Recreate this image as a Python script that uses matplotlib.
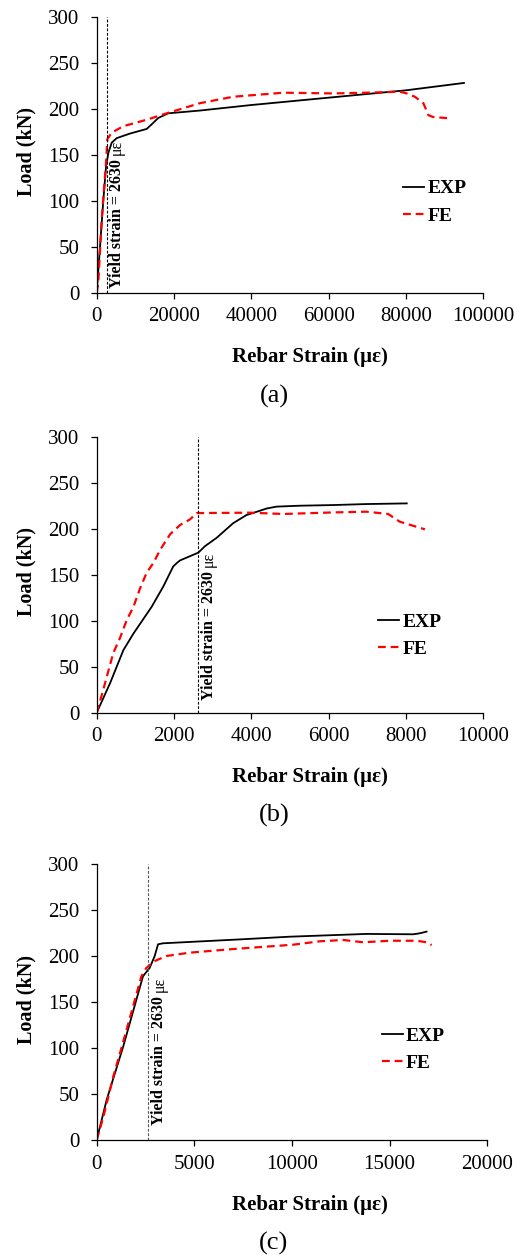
import numpy as np
import matplotlib
matplotlib.use("Agg")
import matplotlib.pyplot as plt

plt.rcParams['font.family'] = ['Liberation Serif', 'DejaVu Serif']

W, H = 523, 1258
YIELD = 2630

# ── Load vs rebar strain data (strain in µε, load in kN) ─────────────────────
exp_a_x = [0, 860, 1720, 2410, 3020, 3880, 5170, 8620, 12930, 14220, 15950,
           18530, 26700, 40000, 60000, 80000, 95000]
exp_a_y = [0, 50, 101, 137, 152, 163, 168, 173, 178, 183, 190,
           195, 198, 204, 212, 220, 228]
fe_a_x = [0, 400, 1300, 2400, 2760, 3880, 6900, 12930, 18100, 26700, 35300,
          48300, 61200, 69800, 78400, 80200, 82300, 84500, 85800, 87000, 91400]
fe_a_y = [0, 10, 80, 140, 167, 174, 181, 188, 195, 206, 213,
          217.4, 216.6, 217.4, 218.5, 216.6, 213, 206, 193, 191, 189.5]

exp_b_x = [0, 345, 690, 950, 1420, 1720, 1980, 2080, 2155, 2630, 2800, 3100,
           3530, 3880, 3965, 4400, 4655, 5260, 6120, 6980, 8020]
exp_b_y = [0, 32, 68, 86, 115, 137, 159, 163, 165.5, 174, 181, 190,
           206, 215, 216, 222, 224, 225, 225.7, 226.8, 227.5]
fe_b_x = [0, 170, 260, 430, 600, 780, 950, 1120, 1290, 1470, 1640, 1900,
          2155, 2410, 2590, 3965, 4830, 6120, 6980, 7540, 7840, 8490]
fe_b_y = [0, 25, 39, 65, 81, 101, 115, 135, 152, 163, 177, 194,
          204, 210, 217, 217.4, 216, 217.7, 218.5, 216, 207.6, 199.3]

exp_c_x = [0, 510, 1360, 2370, 2710, 2970, 3140, 3390, 7290, 9900, 13820,
           16210, 16550, 16890]
exp_c_y = [0, 43.6, 101.8, 178, 187, 200, 212.7, 213.8, 218, 221, 224,
           223.6, 224.7, 226.5]
fe_c_x = [0, 340, 850, 1360, 1860, 2290, 2540, 2970, 3560, 4750, 7000,
          10070, 11430, 12630, 13650, 15010, 16380, 16890, 17150]
fe_c_y = [0, 25, 69, 107, 145, 178, 187, 194.5, 200, 203.6, 207.6,
          212.3, 216, 217.4, 214.9, 216.6, 216.6, 214.9, 211.9]

x_maxes = [100000, 10000, 20000]
x_steps = [20000, 2000, 5000]
panel_tags = ["(a)", "(b)", "(c)"]

# pixel layout of each panel: axes left, right, top, bottom
boxes = [(96.7, 483.3, 16.7, 292.7),
         (96.7, 483.3, 436.7, 712.7),
         (96.7, 487.3, 864.0, 1140.0)]
xlabel_y = [356.7, 777.3, 1205.0]
tag_y = [396.7, 815.0, 1243.3]
legend_y = [(190.7, 219.3), (624.0, 654.3), (1038.3, 1073.3)]
legend_x = [403.0, 378.0, 381.7]
yield_off = [(7.0, 3.4), (7.4, 9.2), (8.2, 10.8)]
yield_col = ['black', 'black', '#555555']

series = [(exp_a_x, exp_a_y, fe_a_x, fe_a_y),
          (exp_b_x, exp_b_y, fe_b_x, fe_b_y),
          (exp_c_x, exp_c_y, fe_c_x, fe_c_y)]


def fx(px):
    return px / W


def fy(py):
    return 1 - py / H


fig = plt.figure(figsize=(W / 100, H / 100), dpi=100)
yield_labels = []

for i in range(3):
    l, r, t, b = boxes[i]
    ax = fig.add_axes([fx(l), fy(b), (r - l) / W, (b - t) / H])
    ex, ey, fex, fey = series[i]

    ax.plot(ex, ey, color='black', lw=1.3, label='EXP')
    ax.plot(fex, fey, color='red', lw=1.6, linestyle=(0, (3.5, 2.2)), label='FE')
    ax.axvline(YIELD, color=yield_col[i], lw=0.8, linestyle=(0, (2.5, 1.5)))

    ax.set_xlim(0, x_maxes[i])
    ax.set_ylim(0, 300)
    ax.set_xticks(np.arange(0, x_maxes[i] + 1, x_steps[i]))
    ax.set_yticks(np.arange(0, 301, 50))
    ax.spines['top'].set_visible(False)
    ax.spines['right'].set_visible(False)
    for s in ['left', 'bottom']:
        ax.spines[s].set_linewidth(0.9)
    ax.tick_params(axis='both', direction='out', length=4.5, width=0.9,
                   labelsize=15)
    ax.tick_params(axis='x', pad=6)
    ax.tick_params(axis='y', pad=8)

    # yield strain marker text, bold part first
    t1 = ax.annotate("Yield strain = 2630 ", xy=(YIELD, 0),
                     xytext=yield_off[i], textcoords='offset points',
                     rotation=90, ha='center', va='bottom',
                     fontsize=11.5, fontweight='bold')
    yield_labels.append(t1)

    # legend
    lx = legend_x[i]
    ly1, ly2 = legend_y[i]
    ax.legend(loc='upper left', frameon=False,
              prop={'weight': 'bold', 'size': 14},
              handlelength=1.1, handletextpad=0.15, labelspacing=0.5,
              borderpad=0, borderaxespad=0,
              bbox_to_anchor=(fx(lx), fy(ly1 - 11)),
              bbox_transform=fig.transFigure)

    fig.text(fx(310), fy(xlabel_y[i]), "Rebar Strain (\u03bc\u03b5)",
             ha='center', va='center', fontsize=15, fontweight='bold')
    fig.text(fx(26), fy((t + b) / 2 - 3), "Load (kN)", rotation=90,
             ha='center', va='center', fontsize=14.5, fontweight='bold')
    fig.text(fx(274), fy(tag_y[i]), panel_tags[i], ha='center', va='center',
             fontsize=19)

# regular-weight unit after the bold yield label
fig.canvas.draw()
for t1 in yield_labels:
    bb = t1.get_window_extent()
    fig.text((bb.x0 + bb.x1) / 2 / fig.bbox.width, bb.y1 / fig.bbox.height,
             "\u03bc\u03b5", rotation=90, ha='center', va='bottom', fontsize=11.5)

fig.savefig("out.png", dpi=100)
